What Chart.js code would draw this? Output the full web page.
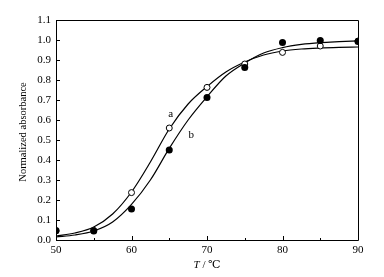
<!DOCTYPE html>
<html>
<head>
<meta charset="utf-8">
<script src="https://cdn.jsdelivr.net/npm/chart.js@4.4.1/dist/chart.umd.min.js"></script>
<style>
  html, body { margin: 0; padding: 0; background: #fff; }
  #wrap { width: 384px; height: 277px; }
</style>
</head>
<body>
<div id="wrap"><canvas id="myChart"></canvas></div>
<script>
// measured points
const tempPoints = [50, 55, 60, 65, 70, 75, 80, 85, 90];
const valuesA = [0.045, 0.048, 0.237, 0.56, 0.763, 0.88, 0.938, 0.97, 0.995];
const valuesB = [0.047, 0.045, 0.155, 0.45, 0.713, 0.863, 0.988, 0.998, 0.993];

// fitted curves
const curveT = [50, 52.5, 55, 57.5, 60, 62.5, 65, 67.5, 70, 72.5, 75, 77.5, 80, 82.5, 85, 87.5, 90];
const curveA = [0.02, 0.035, 0.065, 0.13, 0.24, 0.39, 0.555, 0.68, 0.767, 0.84, 0.89, 0.925, 0.945, 0.955, 0.96, 0.963, 0.965];
const curveB = [0.015, 0.025, 0.045, 0.09, 0.178, 0.3, 0.458, 0.6, 0.716, 0.82, 0.885, 0.935, 0.962, 0.978, 0.987, 0.992, 0.996];

const xTicks = [50, 60, 70, 80, 90];
const xMinorTicks = [55, 65, 75, 85];

const serif = "'Liberation Serif', 'DejaVu Serif', serif";

function toXY(xs, ys) {
  return xs.map((x, i) => ({ x: x, y: ys[i] }));
}

// frame, inward ticks, labels
const framePlugin = {
  id: "frame",
  afterDraw(chart) {
    const ctx = chart.ctx;
    const area = chart.chartArea;
    const xs = chart.scales.x;
    const ys = chart.scales.y;
    ctx.save();
    ctx.strokeStyle = "#000";
    ctx.lineWidth = 1;
    ctx.beginPath();
    ctx.rect(Math.round(area.left) + 0.5, Math.round(area.top) + 0.5,
      Math.round(area.right - area.left), Math.round(area.bottom - area.top));
    ctx.stroke();

    ctx.beginPath();
    xTicks.forEach((t) => {
      const px = Math.round(xs.getPixelForValue(t)) + 0.5;
      ctx.moveTo(px, area.bottom);
      ctx.lineTo(px, area.bottom - 4);
    });
    xMinorTicks.forEach((t) => {
      const px = Math.round(xs.getPixelForValue(t)) + 0.5;
      ctx.moveTo(px, area.bottom);
      ctx.lineTo(px, area.bottom - 2);
    });
    for (let i = 0; i <= 11; i++) {
      const py = Math.round(ys.getPixelForValue(i / 10)) + 0.5;
      ctx.moveTo(area.left, py);
      ctx.lineTo(area.left + 4, py);
    }
    ctx.stroke();

    ctx.fillStyle = "#000";
    ctx.font = "11px " + serif;
    ctx.textAlign = "center";
    ctx.textBaseline = "middle";
    ctx.fillText("a", xs.getPixelForValue(65.2), ys.getPixelForValue(0.63));
    ctx.fillText("b", xs.getPixelForValue(67.9), ys.getPixelForValue(0.525));

    // x title
    const tx = (area.left + area.right) / 2;
    const ty = 265;
    ctx.font = "italic 11px " + serif;
    const w1 = ctx.measureText("T").width;
    ctx.font = "11px " + serif;
    const rest = " / ℃";
    const w2 = ctx.measureText(rest).width;
    ctx.textAlign = "left";
    ctx.font = "italic 11px " + serif;
    ctx.fillText("T", tx - (w1 + w2) / 2, ty);
    ctx.font = "11px " + serif;
    ctx.fillText(rest, tx - (w1 + w2) / 2 + w1, ty);

    // y title
    ctx.translate(23, (area.top + area.bottom) / 2 + 2);
    ctx.rotate(-Math.PI / 2);
    ctx.textAlign = "center";
    ctx.font = "10.5px " + serif;
    ctx.fillText("Normalized absorbance", 0, 0);
    ctx.restore();
  },
};

var ctx = document.getElementById("myChart").getContext("2d");

var myChart = new Chart(ctx, {
  type: "scatter",
  data: {
    datasets: [
      {
        label: "b points",
        data: toXY(tempPoints, valuesB),
        pointStyle: "circle",
        pointRadius: 3.5,
        pointBackgroundColor: "#000",
        pointBorderColor: "#000",
        pointBorderWidth: 0,
        showLine: false,
      },
      {
        label: "a points",
        data: toXY(tempPoints, valuesA),
        pointStyle: "circle",
        pointRadius: 3,
        pointBackgroundColor: "#fff",
        pointBorderColor: "#000",
        pointBorderWidth: 1,
        showLine: false,
      },
      {
        label: "curve a",
        data: toXY(curveT, curveA),
        showLine: true,
        pointRadius: 0,
        borderColor: "#000",
        borderWidth: 1.2,
        cubicInterpolationMode: "monotone",
      },
      {
        label: "curve b",
        data: toXY(curveT, curveB),
        showLine: true,
        pointRadius: 0,
        borderColor: "#000",
        borderWidth: 1.2,
        cubicInterpolationMode: "monotone",
      },
    ],
  },
  options: {
    responsive: true,
    maintainAspectRatio: false,
    animation: false,
    layout: { padding: { top: 20, right: 26, left: 0, bottom: 0 } },
    plugins: {
      legend: { display: false },
      tooltip: { enabled: false },
    },
    scales: {
      x: {
        type: "linear",
        min: 50,
        max: 90,
        grid: { display: false, drawTicks: false, tickLength: 0 },
        border: { display: false },
        ticks: {
          stepSize: 10,
          color: "#000",
          padding: 4,
          font: { family: serif, size: 11 },
        },
        afterFit: (scale) => { scale.height = 37; },
      },
      y: {
        min: 0,
        max: 1.1,
        grid: { display: false, drawTicks: false, tickLength: 0 },
        border: { display: false },
        ticks: {
          stepSize: 0.1,
          color: "#000",
          padding: 5,
          font: { family: serif, size: 11 },
          callback: (v) => v.toFixed(1),
        },
        afterFit: (scale) => { scale.width = 56; },
      },
    },
  },
  plugins: [framePlugin],
});
</script>
</body>
</html>
